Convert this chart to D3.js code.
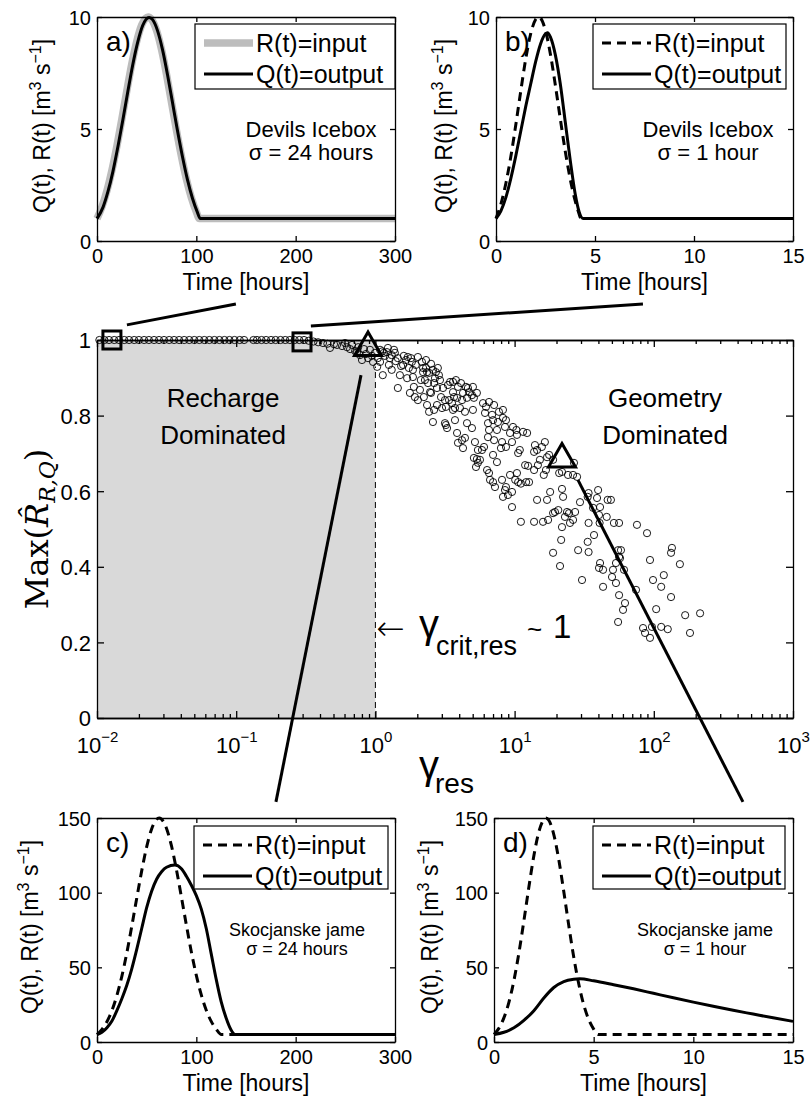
<!DOCTYPE html>
<html><head><meta charset="utf-8">
<script src="https://cdn.jsdelivr.net/npm/d3@7"></script>
<style>
body{margin:0;background:#fff}
svg{display:block}
text{font-family:"Liberation Sans",Arial,Helvetica,sans-serif;fill:#000}
</style>
</head><body>
<svg id="fig" width="812" height="1102"></svg>
<script>
// ------------------------- DATA -------------------------
// Panel a (Devils Icebox, sigma = 24 h)
const timeA   = [0,5,10,15,20,25,30,35,40,45,51.5,55,60,65,70,75,80,85,90,95,100,103,150,200,250,300];
const inputA  = [1.0,1.53,2.24,3.15,4.23,5.44,6.70,7.90,8.91,9.64,10.0,9.89,9.39,8.54,7.43,6.19,4.94,3.78,2.76,1.93,1.30,1.0,1,1,1,1];
const timeQA  = [0,6,11,16,21,26,31,36,41,46,52.5,56,61,66,71,76,81,86,91,96,101,104,150,200,250,300];
const outputA = [1.0,1.5,2.2,3.1,4.2,5.4,6.66,7.87,8.88,9.62,9.98,9.88,9.38,8.53,7.42,6.18,4.93,3.77,2.75,1.92,1.29,1.0,1,1,1,1];
// Panel b (Devils Icebox, sigma = 1 h)
const timeB   = [0,0.25,0.5,0.75,1.0,1.25,1.5,1.75,2.0,2.15,2.25,2.5,2.75,3.0,3.25,3.5,3.75,4.0,4.15,4.3,6,8,10,12,15];
const inputB  = [1.0,1.66,2.58,3.77,5.19,6.69,8.12,9.25,9.89,10.0,9.95,9.39,8.33,6.94,5.44,4.0,2.76,1.79,1.34,1.0,1,1,1,1,1];
const timeQB  = [0,0.25,0.5,0.75,1.0,1.25,1.5,1.75,2.0,2.25,2.5,2.6,2.75,3.0,3.25,3.5,3.75,4.0,4.2,4.4,6,8,10,12,15];
const outputB = [1.0,1.35,1.95,2.8,3.8,4.9,6.0,7.0,8.0,8.8,9.25,9.3,9.1,8.3,7.0,5.3,3.6,2.1,1.3,1.0,1,1,1,1,1];
// Panel c (Skocjanske jame, sigma = 24 h)
const timeC   = [0,5,10,15,20,25,30,35,40,45,50,55,62.6,70,75,80,85,90,95,100,105,110,115,120,125.2,175,225,300];
const inputC  = [5,8.4,13.6,21.0,31.1,44.0,59.6,77.5,96.3,114.6,130.7,142.7,150,143.0,131.3,115.3,97.0,78.2,60.3,44.6,31.5,21.3,13.8,8.6,5,5,5,5];
const timeQC  = [0,5,10,15,20,25,30,35,40,45,50,55,60,65,70,78.5,85,90,95,100,105,110,115,120,125,130,135,139,200,300];
const outputC = [5,6.5,9.5,14,21,29,38,49,62,76,90,101,109,114,117,118.5,116,111,105,98,89,76,59,42,27,16,8,5,5,5];
// Panel d (Skocjanske jame, sigma = 1 h)
const timeD   = [0,0.25,0.5,0.75,1.0,1.25,1.5,1.75,2.0,2.25,2.5,2.608,2.75,3.0,3.25,3.5,3.75,4.0,4.25,4.5,4.75,5.0,5.22,8,11,15];
const inputD  = [5,9.3,16.3,26.7,41.2,59.7,81.2,103.8,124.7,140.7,149.1,150,148.5,138.9,122.1,100.8,78.1,56.9,39.0,25.0,15.1,8.6,5,5,5,5];
const timeQD  = [0,0.5,1,1.5,2,2.5,3,3.5,4,4.3,5,6,7,8,9,10,11,12,13,14,15];
const outputD = [5,6.5,9.5,14.5,21,29.5,36.5,40.5,42,42.3,41,38.4,35.6,32.6,29.6,26.7,23.9,21.2,18.7,16.2,13.8];

const panelTicksX300 = [0,100,200,300];
const panelTicksX15  = [0,5,10,15];
const panelTicksY10  = [0,5,10];
const panelTicksY150 = [0,50,100,150];
const legendLabels   = ["R(t)=input","Q(t)=output"];

// Main plot: [gamma_res, Max(R_hat)]
const scatterGammaR = [
 // plateau at 1
 [0.0104,1],[0.0113,1],[0.0122,1],[0.0133,1],[0.0144,1],[0.0157,1],[0.017,1],[0.0185,1],[0.02,1],[0.0218,1],[0.0236,1],[0.0257,1],[0.0279,1],[0.0303,1],[0.033,1],[0.0358,1],[0.0389,1],[0.0423,1],[0.046,1],[0.05,1],[0.0543,1],[0.059,1],[0.0641,1],[0.0697,1],[0.0757,1],[0.0823,1],[0.0894,1],[0.0972,1],[0.106,1],[0.114,1],
 [0.133,1],[0.141,1],[0.152,1],[0.164,1],[0.178,1],[0.192,1],[0.208,1],[0.225,1],[0.243,1],[0.263,1],[0.284,1],[0.307,1],[0.332,0.998],[0.359,0.996],[0.388,0.994],[0.42,0.992],[0.452,0.99],
 // knee
 [0.472,0.979],[0.504,0.989],[0.530,0.987],[0.576,0.984],[0.605,0.992],[0.625,0.981],[0.658,0.976],[0.680,0.987],[0.715,0.971],[0.739,0.968],[0.752,0.981],[0.775,0.960],[0.801,0.947],[0.828,0.976],[0.856,0.963],[0.885,0.952],[0.914,0.974],[0.945,0.958],[0.961,0.942],[0.993,0.966],[1.03,0.929],[1.04,0.952],[1.08,0.942],[1.08,0.974],[1.12,0.970],[1.13,0.907],[1.15,0.966],[1.17,0.958],[1.21,0.968],[1.23,0.979],[1.25,0.934],[1.27,0.952],[1.31,0.921],[1.31,0.960],[1.36,0.974],[1.38,0.966],[1.40,0.944],[1.45,0.952],[1.45,0.873],[1.50,0.907],[1.53,0.931],[1.58,0.934],[1.60,0.958],[1.66,0.947],
 [1.69,0.899],[1.71,0.955],[1.74,0.926],[1.77,0.860],[1.80,0.952],[1.83,0.942],[1.86,0.921],[1.86,0.902],[1.89,0.876],[1.92,0.849],[1.95,0.934],[2.02,0.841],[2.02,0.955],[2.09,0.868],[2.12,0.894],[2.16,0.942],[2.20,0.926],[2.20,0.915],[2.23,0.849],[2.27,0.894],[2.31,0.926],[2.31,0.947],[2.35,0.915],[2.35,0.828],[2.39,0.886],[2.43,0.913],[2.43,0.810],[2.47,0.862],[2.51,0.860],[2.51,0.937],[2.59,0.921],[2.59,0.783],[2.64,0.886],[2.64,0.815],[2.68,0.899],[2.72,0.915],[2.77,0.873],[2.77,0.828],[2.81,0.926],[2.86,0.907],[2.91,0.894],[2.96,0.849],[3.06,0.873],[3.01,0.820],[3.16,0.841],[3.16,0.780],[3.21,0.823],[3.21,0.775],
 [3.27,0.767],[3.32,0.881],[3.38,0.841],[3.44,0.889],[3.55,0.833],[3.61,0.889],[3.61,0.862],[3.61,0.815],[3.67,0.849],[3.73,0.820],[3.73,0.788],[3.79,0.894],[3.86,0.847],[3.86,0.754],[3.92,0.876],[3.92,0.728],[4.05,0.820],[4.12,0.886],[4.19,0.841],[4.19,0.735],[4.26,0.860],[4.26,0.714],[4.40,0.810],[4.40,0.741],[4.47,0.876],[4.55,0.847],[4.55,0.780],[4.62,0.873],[4.70,0.862],[4.94,0.854],[4.94,0.767],[5.02,0.876],[5.02,0.815],[5.10,0.847],[5.10,0.688],[5.19,0.730],[5.28,0.664],[5.36,0.860],[5.36,0.685],[5.45,0.709],[5.45,0.675],[5.64,0.683],[5.83,0.709],[5.93,0.833],[6.03,0.717],[6.13,0.807],[6.23,0.823],[6.34,0.656],[6.44,0.780],[6.44,0.743],[6.55,0.836],[6.55,0.762],[6.55,0.648],[6.66,0.630],[6.89,0.802],[7.00,0.788],[7.00,0.696],[7.00,0.624],[7.12,0.828],[7.12,0.735],[7.23,0.611],[7.47,0.762],[7.47,0.677],[7.59,0.783],[7.72,0.810],[7.98,0.714],[8.12,0.730],[8.12,0.630],[8.25,0.815],[8.25,0.794],[8.25,0.585],[8.53,0.770],[8.53,0.603],[8.67,0.788],[8.67,0.717],[8.67,0.611],[8.96,0.590],
 [9.27,0.754],[9.27,0.643],[9.58,0.730],[9.58,0.598],[9.58,0.558],[9.74,0.770],[10.1,0.630],[10.3,0.762],[10.4,0.749],[10.4,0.648],[10.6,0.701],[10.6,0.624],[10.9,0.709],[11.1,0.620],[11.1,0.519],[11.5,0.757],[11.9,0.669],[12.1,0.624],[12.3,0.754],[12.5,0.667],[12.7,0.624],[13.8,0.704],[13.8,0.656],[13.8,0.519],[14.0,0.722],[14.5,0.709],[14.5,0.577],[14.7,0.669],[15.2,0.683],[15.7,0.717],[16.0,0.519],[16.2,0.643],[16.5,0.730],[16.8,0.656],[17.1,0.690],[17.1,0.577],[17.4,0.524],[17.7,0.696],[18.0,0.598],[18.9,0.683],[18.9,0.542],[18.9,0.437],[19.5,0.545],[20.6,0.550],[20.9,0.648],
 [21.2,0.402],[21.6,0.471],[21.9,0.651],[21.9,0.606],[21.9,0.505],[22.3,0.585],[23.0,0.532],[23.8,0.545],[24.2,0.643],[24.6,0.542],[25.0,0.516],[26.3,0.643],[26.3,0.524],[26.7,0.675],[27.2,0.545],[28.1,0.638],[28.6,0.444],[29.5,0.571],[30.5,0.365],[33.5,0.585],[33.5,0.466],[34.0,0.595],[34.0,0.516],[34.0,0.439],[36.6,0.556],[37.2,0.484],[39.1,0.582],[39.8,0.603],[40.4,0.537],[40.4,0.397],[40.8,0.516],[41.1,0.558],[41.1,0.410],[43.2,0.392],[43.2,0.347],[45.9,0.532],[46.6,0.577],[49.2,0.577],[50.1,0.373],[50.9,0.392],[51.7,0.516],[53.5,0.410],[53.5,0.357],[55.4,0.444],[55.4,0.254],[56.3,0.516],[56.3,0.426],[56.3,0.325],
 [57.2,0.423],[58.1,0.444],[60.1,0.286],[61.1,0.392],[62.1,0.304],[74.5,0.339],[75.7,0.511],[83.7,0.238],[86.5,0.225],[89.4,0.489],[93.9,0.418],[93.9,0.212],[97.0,0.241],[98.7,0.365],[104,0.288],[113,0.347],[113,0.241],[118,0.378],[126,0.235],[133,0.437],[133,0.320],[135,0.450],[154,0.407],[168,0.272],[182,0.225],[215,0.277]
];
const squaresGammaR   = [[0.0128,1.0],[0.297,0.995]];
const trianglesGammaR = [[0.885,0.988],[21.9,0.693]];
// connector lines (main-axis coordinates, extending beyond the axes)
const connectorsGammaR = [
 [[0.0164,1.040],[0.0995,1.095]],
 [[0.344,1.037],[83.6,1.095]],
 [[0.788,0.907],[0.193,-0.222]],
 [[28.5,0.630],[437,-0.222]]
];
const mainYTicks    = [0,0.2,0.4,0.6,0.8,1];
const mainXDecades  = [-2,-1,0,1,2,3];
const gammaCrit     = 1;
const rechargeRange = [0.01,1];

// ------------------------- DRAW -------------------------
const svg = d3.select("#fig");
const SERIF = '"DejaVu Serif","Liberation Serif",serif';

function cleanAxis(sel, lw){
  sel.attr("font-family",null).attr("font-size",null);
  sel.select(".domain").attr("stroke","#000").attr("stroke-width",lw);
  sel.selectAll(".tick line").attr("stroke","#000").attr("stroke-width",lw);
}

function drawPanel(o){
  const x = d3.scaleLinear().domain(o.xd).range([o.x0,o.x1]);
  const y = d3.scaleLinear().domain(o.yd).range([o.y1,o.y0]);
  const g = svg.append("g");
  o.series.forEach(s=>{
    const line = d3.line().x((d,i)=>x(s.t[i])).y(d=>y(d)).curve(d3.curveMonotoneX);
    g.append("path").datum(s.v).attr("d",line).attr("fill","none")
      .attr("stroke",s.color).attr("stroke-width",s.w)
      .attr("stroke-dasharray",s.dash||null).attr("stroke-linejoin","round");
  });
  const tl = 5, lw = 1.3;
  const b = g.append("g").attr("transform",`translate(0,${o.y1})`)
    .call(d3.axisBottom(x).tickValues(o.xt).tickSizeInner(-tl).tickSizeOuter(0).tickFormat(d3.format("d")));
  cleanAxis(b,lw);
  b.selectAll(".tick text").attr("y",22).attr("dy",null).attr("font-size",20);
  const t = g.append("g").attr("transform",`translate(0,${o.y0})`)
    .call(d3.axisTop(x).tickValues(o.xt).tickSizeInner(-tl).tickSizeOuter(0).tickFormat(""));
  cleanAxis(t,lw);
  const l = g.append("g").attr("transform",`translate(${o.x0},0)`)
    .call(d3.axisLeft(y).tickValues(o.yt).tickSizeInner(-tl).tickSizeOuter(0).tickFormat(d3.format("d")));
  cleanAxis(l,lw);
  l.selectAll(".tick text").attr("x",-6).attr("dy","0.36em").attr("font-size",20);
  const r = g.append("g").attr("transform",`translate(${o.x1},0)`)
    .call(d3.axisRight(y).tickValues(o.yt).tickSizeInner(-tl).tickSizeOuter(0).tickFormat(""));
  cleanAxis(r,lw);

  // axis labels
  g.append("text").attr("x",(o.x0+o.x1)/2).attr("y",o.y1+49).attr("text-anchor","middle")
    .attr("font-size",23).text("Time [hours]");
  const yl = g.append("text").attr("transform",`translate(${o.ylx},${(o.y0+o.y1)/2 - 3}) rotate(-90)`)
    .attr("text-anchor","middle").attr("font-size",23);
  yl.append("tspan").text("Q(t), R(t) [m");
  yl.append("tspan").attr("dy",-9).attr("font-size",16).text("3");
  yl.append("tspan").attr("dy",9).text(" s");
  yl.append("tspan").attr("dy",-9).attr("font-size",16).text("\u22121");
  yl.append("tspan").attr("dy",9).text("]");

  // panel letter
  g.append("text").attr("x",o.x0+9).attr("y",o.y0+34).attr("font-size",28).text(o.letter);

  // legend
  const L = o.legend;
  g.append("rect").attr("x",L.x0).attr("y",L.y0).attr("width",L.x1-L.x0).attr("height",L.y1-L.y0)
    .attr("fill","#fff").attr("stroke","#000").attr("stroke-width",1.2);
  o.series.forEach((s,i)=>{
    const yy = L.y0 + 19 + i*31;
    g.append("line").attr("x1",L.x0+9).attr("x2",L.x0+58).attr("y1",yy).attr("y2",yy)
      .attr("stroke",s.color).attr("stroke-width",s.w).attr("stroke-dasharray",s.dash||null);
    g.append("text").attr("x",L.x0+61).attr("y",yy+9).attr("font-size",25).text(legendLabels[i]);
  });

  // annotation
  o.note.forEach((txt,i)=>{
    g.append("text").attr("x",o.noteX).attr("y",o.noteY + i*o.noteDy).attr("text-anchor","middle")
      .attr("font-size",o.noteSize).text(txt);
  });
}

drawPanel({x0:97,x1:395,y0:17,y1:241,xd:[0,300],yd:[0,10],xt:panelTicksX300,yt:panelTicksY10,ylx:50,letter:"a)",
  series:[{t:timeA,v:inputA,color:"#bdbdbd",w:7.5},{t:timeQA,v:outputA,color:"#000",w:3}],
  legend:{x0:195,x1:395,y0:24,y1:89},
  note:["Devils Icebox","\u03c3 = 24 hours"],noteX:311,noteY:137,noteDy:23,noteSize:22});
drawPanel({x0:496,x1:793,y0:17,y1:241,xd:[0,15],yd:[0,10],xt:panelTicksX15,yt:panelTicksY10,ylx:452,letter:"b)",
  series:[{t:timeB,v:inputB,color:"#000",w:3,dash:"9,6"},{t:timeQB,v:outputB,color:"#000",w:3}],
  legend:{x0:593,x1:786,y0:24,y1:89},
  note:["Devils Icebox","\u03c3 = 1 hour"],noteX:708,noteY:137,noteDy:23,noteSize:22});
drawPanel({x0:97,x1:395,y0:818,y1:1042,xd:[0,300],yd:[0,150],xt:panelTicksX300,yt:panelTicksY150,ylx:38,letter:"c)",
  series:[{t:timeC,v:inputC,color:"#000",w:3,dash:"9,6"},{t:timeQC,v:outputC,color:"#000",w:3}],
  legend:{x0:194,x1:388,y0:826,y1:889},
  note:["Skocjanske jame","\u03c3 = 24 hours"],noteX:297,noteY:936,noteDy:19,noteSize:18});
drawPanel({x0:494,x1:793,y0:818,y1:1042,xd:[0,15],yd:[0,150],xt:panelTicksX15,yt:panelTicksY150,ylx:438,letter:"d)",
  series:[{t:timeD,v:inputD,color:"#000",w:3,dash:"9,6"},{t:timeQD,v:outputD,color:"#000",w:3}],
  legend:{x0:593,x1:785,y0:826,y1:889},
  note:["Skocjanske jame","\u03c3 = 1 hour"],noteX:705,noteY:936,noteDy:19,noteSize:18});

// ---------------- main plot ----------------
const gx = d3.scaleLog().domain([0.01,1000]).range([97,793]);
const gy = d3.scaleLinear().domain([0,1]).range([718,340]);
const m = svg.append("g");
m.append("rect").attr("x",gx(rechargeRange[0])).attr("y",gy(1))
  .attr("width",gx(rechargeRange[1])-gx(rechargeRange[0])).attr("height",gy(0)-gy(1)).attr("fill","#d9d9d9");
m.append("line").attr("x1",gx(gammaCrit)).attr("x2",gx(gammaCrit)).attr("y1",gy(0)).attr("y2",gy(0.93))
  .attr("stroke","#000").attr("stroke-width",1).attr("stroke-dasharray","6,4");

const minorVals = [];
mainXDecades.slice(0,-1).forEach(e=>{ for(let k=2;k<=9;k++) minorVals.push(k*Math.pow(10,e)); });
const majorVals = mainXDecades.map(e=>Math.pow(10,e));
const MLW = 1.3;
const bx = m.append("g").attr("transform","translate(0,718)")
  .call(d3.axisBottom(gx).tickValues(majorVals).tickSizeInner(-7).tickSizeOuter(0).tickFormat(""));
cleanAxis(bx,MLW);
const bxm = m.append("g").attr("transform","translate(0,718)")
  .call(d3.axisBottom(gx).tickValues(minorVals).tickSizeInner(-4).tickSizeOuter(0).tickFormat(""));
cleanAxis(bxm,MLW);
const tx = m.append("g").attr("transform","translate(0,340)")
  .call(d3.axisTop(gx).tickValues(majorVals).tickSizeInner(-7).tickSizeOuter(0).tickFormat(""));
cleanAxis(tx,MLW);
const txm = m.append("g").attr("transform","translate(0,340)")
  .call(d3.axisTop(gx).tickValues(minorVals).tickSizeInner(-4).tickSizeOuter(0).tickFormat(""));
cleanAxis(txm,MLW);
const ly = m.append("g").attr("transform","translate(97,0)")
  .call(d3.axisLeft(gy).tickValues(mainYTicks).tickSizeInner(-7).tickSizeOuter(0).tickFormat(d=>d===0||d===1?d3.format("d")(d):d3.format(".1f")(d)));
cleanAxis(ly,MLW);
ly.selectAll(".tick text").attr("x",-6).attr("dy","0.36em").attr("font-size",22);
const ry = m.append("g").attr("transform","translate(793,0)")
  .call(d3.axisRight(gy).tickValues(mainYTicks).tickSizeInner(-7).tickSizeOuter(0).tickFormat(""));
cleanAxis(ry,MLW);
// decade labels 10^n
bx.selectAll(".tick").each(function(d){
  const e = Math.round(Math.log10(d));
  const t = d3.select(this).select("text").attr("y",35).attr("dy",null).attr("font-size",22).attr("text-anchor","middle");
  t.text(null);
  t.append("tspan").text("10");
  t.append("tspan").attr("dy",-11).attr("font-size",15).text(e<0?"\u2212"+(-e):String(e));
});

// scatter
m.append("g").selectAll("circle").data(scatterGammaR).join("circle")
  .attr("cx",d=>gx(d[0])).attr("cy",d=>gy(d[1])).attr("r",3.6)
  .attr("fill","none").attr("stroke","#000").attr("stroke-width",0.9);

// squares & triangles
m.append("g").selectAll("rect").data(squaresGammaR).join("rect")
  .attr("x",d=>gx(d[0])-9).attr("y",d=>gy(d[1])-9).attr("width",18).attr("height",18)
  .attr("fill","none").attr("stroke","#000").attr("stroke-width",3);
m.append("g").selectAll("path").data(trianglesGammaR).join("path")
  .attr("d",d=>{const cx=gx(d[0]),cy=gy(d[1]);return `M${cx},${cy-12.5}L${cx+13.5},${cy+11}L${cx-13.5},${cy+11}Z`;})
  .attr("fill","none").attr("stroke","#000").attr("stroke-width",3).attr("stroke-linejoin","miter");

// connectors
m.append("g").selectAll("line").data(connectorsGammaR).join("line")
  .attr("x1",d=>gx(d[0][0])).attr("y1",d=>gy(d[0][1]))
  .attr("x2",d=>gx(d[1][0])).attr("y2",d=>gy(d[1][1]))
  .attr("stroke","#000").attr("stroke-width",3);

// region texts
[["Recharge",407],["Dominated",444]].forEach(([s,yv])=>m.append("text").attr("x",223).attr("y",yv).attr("text-anchor","middle").attr("font-size",26).text(s));
[["Geometry",407],["Dominated",444]].forEach(([s,yv])=>m.append("text").attr("x",665).attr("y",yv).attr("text-anchor","middle").attr("font-size",26).text(s));

// critical annotation
const ca = m.append("text").attr("y",638);
ca.append("tspan").attr("x",376).attr("dy",2).attr("font-family",'"DejaVu Sans",sans-serif').attr("font-size",34).attr("font-weight",200).text("\u2190");
ca.append("tspan").attr("x",419).attr("dy",-2).attr("font-size",40).text("\u03b3");
ca.append("tspan").attr("x",436).attr("dy",17).attr("font-size",27).text("crit,res");
ca.append("tspan").attr("x",527).attr("dy",-17).attr("font-size",26).text("~");
ca.append("tspan").attr("x",553).attr("font-size",33).text("1");

// x label gamma_res
const xl = m.append("text").attr("x",419).attr("y",779);
xl.append("tspan").attr("font-size",40).text("\u03b3");
xl.append("tspan").attr("x",435).attr("dy",14).attr("font-size",28).text("res");

// y label Max(R_hat_{R,Q})
const yL = m.append("text").attr("transform","translate(48,529) rotate(-90)").attr("text-anchor","middle")
  .style("font-family",SERIF).attr("font-size",32);
yL.append("tspan").text("Max(");
yL.append("tspan").attr("font-style","italic").text("R\u0302");
yL.append("tspan").attr("font-style","italic").attr("font-size",22).attr("dy",7).text("R,Q");
yL.append("tspan").attr("dy",-7).text(")");
</script>
</body></html>
